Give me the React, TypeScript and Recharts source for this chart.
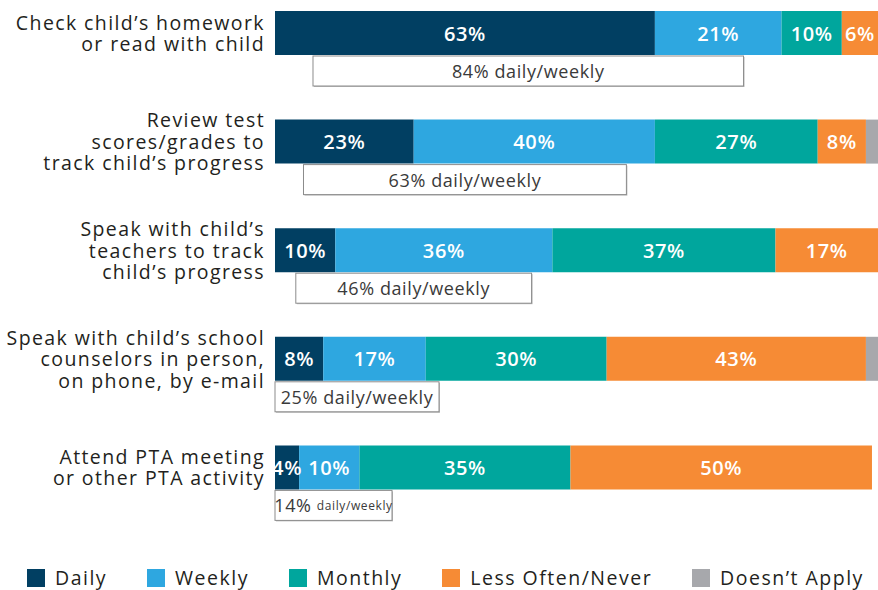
import React from 'react';
import { BarChart, Bar, XAxis, YAxis, LabelList } from 'recharts';

const categories = [
  'Check child’s homework\nor read with child',
  'Review test\nscores/grades to\ntrack child’s progress',
  'Speak with child’s\nteachers to track\nchild’s progress',
  'Speak with child’s school\ncounselors in person,\non phone, by e-mail',
  'Attend PTA meeting\nor other PTA activity',
];

const daily = [63, 23, 10, 8, 4];
const weekly = [21, 40, 36, 17, 10];
const monthly = [10, 27, 37, 30, 35];
const lessOften = [6, 8, 17, 43, 50];
const doesntApply = [0, 2, 0, 2, 0];

const seriesNames = ['Daily', 'Weekly', 'Monthly', 'Less Often/Never', 'Doesn’t Apply'];
const seriesKeys = ['daily', 'weekly', 'monthly', 'lessOften', 'doesntApply'];
const colors = ['#013f62', '#2ea7e0', '#00a69d', '#f68b35', '#a7a8ac'];

const data = categories.map((name, i) => ({
  name,
  daily: daily[i],
  weekly: weekly[i],
  monthly: monthly[i],
  lessOften: lessOften[i],
  doesntApply: doesntApply[i],
}));

const FONT = '"Open Sans", sans-serif';
const PLOT_LEFT = 275;
const LINE_H = 21.5;

const CategoryTick: React.FC<any> = ({ x, y, payload }) => {
  const lines: string[] = String(payload.value).split('\n');
  const first = -((lines.length - 1) / 2) * LINE_H + 7;
  return (
    <text
      x={x}
      y={y}
      textAnchor="end"
      fill="#231f20"
      fontSize={19.5}
      letterSpacing={1.4}
      fontFamily={FONT}
    >
      {lines.map((l, i) => (
        <tspan key={i} x={x} dy={i === 0 ? first : LINE_H}>
          {l}
        </tspan>
      ))}
    </text>
  );
};

const ValueLabel: React.FC<any> = ({ x, y, width, height, value }) => {
  if (!value || value < 3) return null;
  return (
    <text
      x={Number(x) + Number(width) / 2}
      y={Number(y) + Number(height) / 2}
      textAnchor="middle"
      dominantBaseline="central"
      fill="#fff"
      fontSize={20}
      fontWeight={600}
      letterSpacing={0.6}
      fontFamily={FONT}
    >
      {`${value}%`}
    </text>
  );
};

// box under each bar with the daily + weekly total
const TotalBox: React.FC<any> = ({ x, y, width, height, index }) => {
  const total = daily[index] + weekly[index];
  const end = Number(x) + Number(width);
  const span = end - PLOT_LEFT;
  const small = span < 120;
  const textW = small ? 103 : 150;
  const w = Math.max(textW + 14, span * 0.85);
  const bx = Math.max(PLOT_LEFT, PLOT_LEFT + span / 2 - w / 2);
  const by = Number(y) + Number(height) + 1;
  const bh = 30;
  return (
    <g>
      <rect x={bx + 1} y={by + 1} width={w} height={bh} fill="#bdbdbd" />
      <rect x={bx} y={by} width={w} height={bh} fill="#fff" stroke="#8c8c8c" strokeWidth={1} />
      <text
        x={bx + w / 2}
        y={by + bh / 2}
        textAnchor="middle"
        dominantBaseline="central"
        fill="#3a3a3a"
        fontSize={18}
        letterSpacing={0.6}
        fontFamily={FONT}
      >
        {small ? (
          <>
            <tspan>{`${total}% `}</tspan>
            <tspan fontSize={12}>daily/weekly</tspan>
          </>
        ) : (
          `${total}% daily/weekly`
        )}
      </text>
    </g>
  );
};

const App: React.FC = () => {
  return (
    <div style={{ position: 'absolute', left: 0, top: 0, width: 878, height: 590, background: '#fff' }}>
      <BarChart
        width={878}
        height={590}
        data={data}
        layout="vertical"
        margin={{ top: -21, right: 0, left: 0, bottom: 68 }}
        barSize={44}
      >
        <XAxis type="number" domain={[0, 100]} hide />
        <YAxis
          type="category"
          dataKey="name"
          width={PLOT_LEFT}
          axisLine={false}
          tickLine={false}
          tickSize={0}
          tickMargin={10}
          tick={<CategoryTick />}
          interval={0}
        />
        {seriesKeys.map((key, i) => (
          <Bar key={key} dataKey={key} stackId="a" fill={colors[i]} name={seriesNames[i]} isAnimationActive={false}>
            <LabelList dataKey={key} content={<ValueLabel />} />
            {key === 'weekly' && <LabelList dataKey={key} content={<TotalBox />} />}
          </Bar>
        ))}
      </BarChart>
      <div
        style={{
          position: 'absolute',
          left: 27,
          top: 568,
          display: 'flex',
          alignItems: 'center',
          gap: 40,
          fontFamily: FONT,
          fontSize: 19.5,
          lineHeight: '20px',
          letterSpacing: 1.5,
          color: '#231f20',
        }}
      >
        {seriesNames.map((n, i) => (
          <div key={n} style={{ display: 'flex', alignItems: 'center', gap: 10 }}>
            <span style={{ display: 'inline-block', width: 18, height: 18, background: colors[i] }} />
            <span>{n}</span>
          </div>
        ))}
      </div>
    </div>
  );
};

export default App;
